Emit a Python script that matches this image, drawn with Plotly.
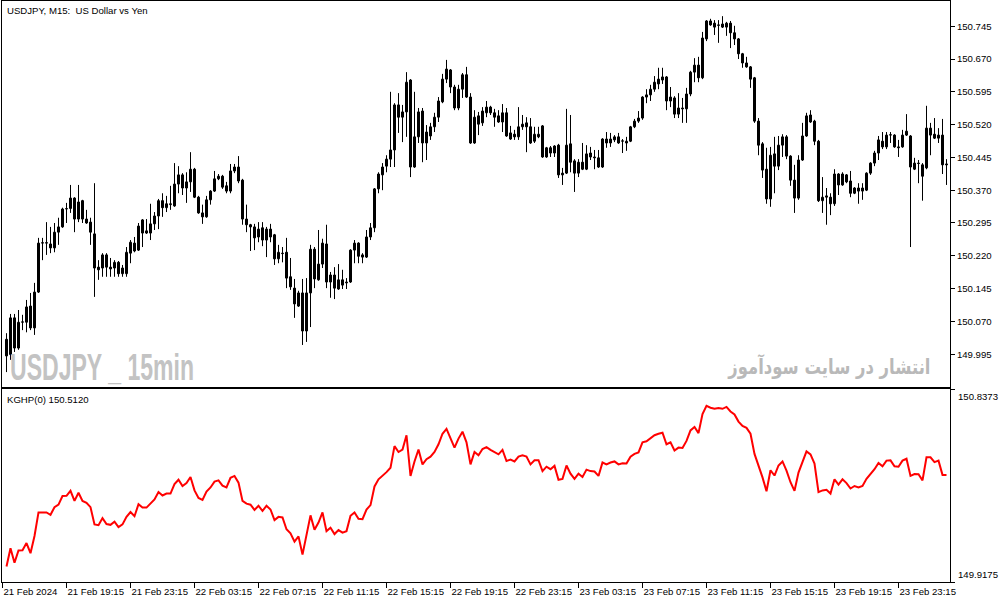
import plotly.graph_objects as go

# ---------------- data (USDJPY M15) ----------------
open_ = [
150.029,149.994,150.078,150.009,150.068,150.068,150.105,150.055,150.137,150.249,
150.250,150.247,150.238,150.274,150.286,150.327,150.328,150.352,150.304,150.346,
150.304,150.297,150.270,150.194,150.192,150.222,150.194,150.192,150.205,150.179,
150.179,150.226,150.249,150.233,150.302,150.277,150.272,150.293,150.311,150.346,
150.330,150.337,150.334,150.384,150.405,150.375,150.389,150.418,150.354,150.318,
150.309,150.348,150.368,150.396,150.402,150.380,150.368,150.414,150.423,150.393,
150.304,150.291,150.286,150.263,150.284,150.256,150.281,150.268,150.213,150.226,
150.228,150.172,150.146,150.105,150.135,150.048,150.135,150.235,150.165,150.201,
150.247,150.160,150.176,150.144,150.165,150.158,150.160,150.233,150.249,150.222,
150.217,150.263,150.284,150.373,150.405,150.425,150.441,150.462,150.565,150.537,
150.549,150.622,150.423,150.492,150.551,150.478,150.494,150.515,150.537,150.572,
150.624,150.645,150.606,150.558,150.601,150.634,150.583,150.478,150.540,150.524,
150.547,150.560,150.547,150.540,150.526,150.547,150.487,150.498,150.492,150.515,
150.524,150.515,150.482,150.492,150.517,150.446,150.467,150.455,150.473,150.405,
150.409,150.476,150.437,150.409,150.434,150.418,150.455,150.446,150.444,150.423,
150.487,150.478,150.485,150.492,150.482,150.478,150.482,150.515,150.528,150.535,
150.583,150.588,150.601,150.613,150.622,150.629,150.574,150.581,150.544,150.558,
150.556,150.590,150.640,150.656,150.627,150.716,150.757,150.752,150.748,150.750,
150.743,150.752,150.730,150.716,150.682,150.661,150.652,150.627,150.528,150.476,
150.418,150.350,150.453,150.425,150.473,150.492,150.448,150.393,150.352,150.439,
150.494,150.542,150.528,150.482,150.346,150.354,150.354,150.339,150.407,150.382,
150.405,150.391,150.363,150.375,150.368,150.370,150.409,150.432,150.455,150.482,
150.469,150.496,150.496,150.469,150.469,150.496,150.494,150.418,150.432,150.428,
150.421,150.496,150.498,150.489,150.496,150.430]

high = [
150.043,150.087,150.087,150.096,150.085,150.119,150.135,150.158,150.261,150.261,
150.297,150.286,150.295,150.307,150.330,150.341,150.382,150.354,150.382,150.348,
150.325,150.307,150.386,150.210,150.226,150.226,150.215,150.210,150.208,150.199,
150.240,150.256,150.263,150.295,150.304,150.304,150.339,150.320,150.350,150.363,
150.357,150.380,150.432,150.425,150.409,150.411,150.457,150.421,150.357,150.337,
150.357,150.370,150.414,150.407,150.405,150.389,150.430,150.430,150.448,150.396,
150.337,150.293,150.293,150.297,150.297,150.286,150.293,150.270,150.245,150.240,
150.261,150.215,150.167,150.140,150.167,150.169,150.245,150.240,150.279,150.259,
150.291,150.183,150.194,150.201,150.188,150.169,150.235,150.256,150.251,150.226,
150.279,150.295,150.375,150.411,150.432,150.450,150.595,150.569,150.592,150.565,
150.640,150.624,150.595,150.558,150.558,150.519,150.524,150.547,150.583,150.636,
150.668,150.647,150.611,150.611,150.638,150.652,150.592,150.553,150.549,150.560,
150.574,150.563,150.556,150.553,150.567,150.558,150.517,150.508,150.560,150.542,
150.537,150.535,150.515,150.515,150.519,150.469,150.471,150.473,150.476,150.421,
150.556,150.542,150.441,150.441,150.478,150.473,150.469,150.462,150.462,150.489,
150.503,150.501,150.496,150.501,150.487,150.492,150.517,150.533,150.551,150.585,
150.601,150.611,150.631,150.650,150.650,150.631,150.606,150.585,150.592,150.581,
150.604,150.643,150.672,150.675,150.732,150.759,150.762,150.759,150.759,150.768,
150.755,150.757,150.746,150.718,150.684,150.675,150.654,150.629,150.535,150.480,
150.467,150.469,150.492,150.494,150.498,150.496,150.450,150.428,150.450,150.524,
150.547,150.553,150.531,150.485,150.400,150.375,150.363,150.418,150.409,150.411,
150.407,150.414,150.377,150.386,150.386,150.411,150.434,150.460,150.494,150.503,
150.503,150.503,150.498,150.485,150.508,150.544,150.496,150.444,150.439,150.432,
150.563,150.524,150.535,150.512,150.533,150.441]

low = [
149.954,149.982,150.000,150.005,150.050,150.045,150.050,150.039,150.135,150.210,
150.222,150.226,150.228,150.245,150.284,150.295,150.318,150.274,150.297,150.295,
150.293,150.245,150.126,150.165,150.172,150.172,150.172,150.172,150.172,150.172,
150.172,150.203,150.228,150.231,150.240,150.270,150.256,150.279,150.281,150.309,
150.320,150.325,150.332,150.363,150.359,150.341,150.366,150.352,150.316,150.293,
150.307,150.337,150.366,150.393,150.373,150.363,150.363,150.409,150.386,150.291,
150.274,150.231,150.233,150.251,150.242,150.217,150.251,150.199,150.203,150.205,
150.146,150.142,150.078,150.103,150.016,150.023,150.057,150.146,150.163,150.192,
150.146,150.124,150.121,150.142,150.144,150.144,150.158,150.203,150.203,150.203,
150.215,150.256,150.274,150.363,150.370,150.411,150.423,150.423,150.501,150.480,
150.492,150.400,150.421,150.478,150.434,150.439,150.485,150.503,150.526,150.569,
150.615,150.592,150.553,150.553,150.581,150.581,150.476,150.476,150.496,150.517,
150.537,150.542,150.515,150.524,150.503,150.492,150.485,150.485,150.485,150.508,
150.457,150.476,150.478,150.489,150.444,150.444,150.446,150.446,150.398,150.382,
150.407,150.411,150.366,150.400,150.416,150.416,150.439,150.418,150.421,150.421,
150.467,150.469,150.480,150.476,150.455,150.460,150.480,150.512,150.524,150.531,
150.569,150.574,150.595,150.601,150.613,150.553,150.560,150.535,150.535,150.524,
150.524,150.585,150.617,150.617,150.624,150.711,150.746,150.725,150.707,150.741,
150.723,150.695,150.702,150.670,150.650,150.650,150.604,150.524,150.450,150.398,
150.339,150.332,150.363,150.416,150.446,150.441,150.380,150.318,150.348,150.437,
150.492,150.524,150.473,150.343,150.318,150.291,150.313,150.334,150.359,150.380,
150.386,150.354,150.361,150.339,150.348,150.368,150.405,150.425,150.439,150.464,
150.464,150.478,150.467,150.446,150.467,150.494,150.240,150.416,150.386,150.346,
150.418,150.450,150.487,150.478,150.407,150.382]

close = [
149.991,150.078,150.009,150.068,150.069,150.103,150.055,150.137,150.249,150.250,
150.249,150.238,150.274,150.286,150.327,150.328,150.352,150.304,150.343,150.304,
150.295,150.274,150.192,150.188,150.222,150.194,150.190,150.205,150.179,150.192,
150.228,150.251,150.231,150.288,150.272,150.272,150.293,150.311,150.346,150.330,
150.339,150.339,150.384,150.405,150.375,150.389,150.418,150.354,150.318,150.309,
150.348,150.368,150.396,150.402,150.377,150.368,150.414,150.423,150.391,150.304,
150.291,150.286,150.261,150.281,150.256,150.281,150.263,150.213,150.228,150.225,
150.169,150.149,150.110,150.135,150.048,150.135,150.235,150.167,150.201,150.249,
150.160,150.176,150.146,150.165,150.153,150.160,150.233,150.249,150.219,150.217,
150.263,150.284,150.373,150.407,150.423,150.441,150.462,150.565,150.537,150.549,
150.617,150.423,150.492,150.549,150.478,150.503,150.515,150.537,150.574,150.624,
150.647,150.606,150.558,150.601,150.634,150.583,150.478,150.537,150.521,150.551,
150.560,150.547,150.537,150.526,150.547,150.494,150.501,150.492,150.515,150.521,
150.515,150.478,150.498,150.498,150.446,150.467,150.455,150.471,150.405,150.409,
150.473,150.434,150.409,150.434,150.418,150.453,150.446,150.444,150.423,150.487,
150.478,150.487,150.492,150.478,150.483,150.482,150.515,150.528,150.535,150.583,
150.588,150.601,150.617,150.624,150.629,150.574,150.583,150.544,150.558,150.556,
150.590,150.640,150.656,150.627,150.718,150.757,150.748,150.743,150.747,150.743,
150.752,150.730,150.716,150.682,150.661,150.652,150.624,150.528,150.473,150.416,
150.350,150.450,150.425,150.473,150.492,150.448,150.393,150.352,150.439,150.494,
150.540,150.526,150.482,150.346,150.354,150.357,150.339,150.407,150.382,150.407,
150.389,150.363,150.375,150.368,150.375,150.409,150.432,150.455,150.485,150.469,
150.496,150.497,150.469,150.467,150.496,150.505,150.423,150.432,150.431,150.402,
150.512,150.512,150.489,150.496,150.428,150.428]

# KGHP indicator line follows the closing prices
kghp = close

bars = list(range(1, len(close) + 1))

price_ticks = [150.745, 150.670, 150.595, 150.520, 150.445, 150.370,
               150.295, 150.220, 150.145, 150.070, 149.995]
price_tick_text = ["150.745", "150.670", "150.595", "150.520", "150.445", "150.370",
                   "150.295", "150.220", "150.145", "150.070", "149.995"]

ind_max = 150.8373
ind_min = 149.9175

time_tick_bars = [0, 16, 32, 48, 64, 80, 96, 112, 128, 144, 160, 176, 192, 208, 224]
time_tick_labels = ["21 Feb 2024", "21 Feb 19:15", "21 Feb 23:15", "22 Feb 03:15",
                    "22 Feb 07:15", "22 Feb 11:15", "22 Feb 15:15", "22 Feb 19:15",
                    "22 Feb 23:15", "23 Feb 03:15", "23 Feb 07:15", "23 Feb 11:15",
                    "23 Feb 15:15", "23 Feb 19:15", "23 Feb 23:15"]

title_text = "USDJPY, M15:  US Dollar vs Yen"
indicator_text = "KGHP(0) 150.5120"
watermark_left = "USDJPY _ 15min"
watermark_right = "انتشار در سایت سودآموز"

# ---------------- derived drawing series ----------------
body_lo = [min(o, c) for o, c in zip(open_, close)]
body_h = [max(abs(c - o), 0.0006) for o, c in zip(open_, close)]
body_fill = ["white" if c >= o else "black" for o, c in zip(open_, close)]

wick_x, wick_y = [], []
for b, lo, hi in zip(bars, low, high):
    wick_x += [b, b, None]
    wick_y += [lo, hi, None]

# ---------------- figure ----------------
FONT = "Liberation Sans, Arial, sans-serif"
FS = 9.6

fig = go.Figure()

fig.add_trace(go.Scatter(
    x=wick_x, y=wick_y, mode="lines", line=dict(color="black", width=1),
    showlegend=False, hoverinfo="skip", xaxis="x", yaxis="y"))

fig.add_trace(go.Bar(
    x=bars, y=body_h, base=body_lo, width=0.5,
    marker=dict(color=body_fill, line=dict(color="black", width=1)),
    showlegend=False, hoverinfo="skip", xaxis="x", yaxis="y"))

fig.add_trace(go.Scatter(
    x=bars, y=kghp, mode="lines",
    line=dict(color="#ff0000", width=2),
    showlegend=False, hoverinfo="skip",
    xaxis="x2", yaxis="y2"))

H_TOP, H_BOT = 1, 582
PH = H_BOT - H_TOP


def py(pix):
    return (H_BOT - pix) / PH


axis_common = dict(showgrid=False, zeroline=False, showline=True, mirror=True,
                   linecolor="black", linewidth=1, automargin=False)
XR = [-0.125, 236.875]

fig.update_layout(
    width=1003, height=603,
    margin=dict(l=2, r=53, t=H_TOP, b=603 - H_BOT, pad=0, autoexpand=False),
    paper_bgcolor="white", plot_bgcolor="white",
    font=dict(family=FONT, size=FS, color="black"),
    showlegend=False,
    xaxis=dict(domain=[0, 1], range=XR, anchor="y", showticklabels=False,
               ticks="", rangeslider=dict(visible=False), **axis_common),
    yaxis=dict(domain=[py(387), 1], range=[149.9199, 150.8027], side="right",
               tickmode="array", tickvals=price_ticks, ticktext=price_tick_text,
               ticks="outside", ticklen=4, tickcolor="black",
               tickfont=dict(family=FONT, size=FS, color="black"), **axis_common),
    xaxis2=dict(domain=[0, 1], range=XR, anchor="y2",
                tickmode="array", tickvals=time_tick_bars, ticktext=time_tick_labels,
                ticks="outside", ticklen=5, tickcolor="black", tickangle=0,
                ticklabelposition="outside right",
                tickfont=dict(family=FONT, size=FS, color="black"), **axis_common),
    yaxis2=dict(domain=[0, py(389)], range=[ind_min, ind_max], side="right",
                tickmode="array", tickvals=[ind_max, ind_min], showticklabels=False,
                ticks="outside", ticklen=4, tickcolor="black", **axis_common),
)

ann = []
ann.append(dict(text=title_text, xref="paper", yref="paper", x=(5 - 2) / 948, y=py(3),
                xanchor="left", yanchor="top", showarrow=False,
                font=dict(family=FONT, size=FS, color="black")))
ann.append(dict(text=indicator_text, xref="paper", yref="paper", x=(5 - 2) / 948, y=py(392),
                xanchor="left", yanchor="top", showarrow=False,
                font=dict(family=FONT, size=FS, color="black")))
ann.append(dict(text=f"{ind_max:.4f}", xref="paper", yref="y2", x=1, xshift=6, y=ind_max,
                xanchor="left", yanchor="top", showarrow=False,
                font=dict(family=FONT, size=FS, color="black")))
ann.append(dict(text=f"{ind_min:.4f}", xref="paper", yref="y2", x=1, xshift=6, y=ind_min,
                xanchor="left", yanchor="bottom", showarrow=False,
                font=dict(family=FONT, size=FS, color="black")))
ann.append(dict(text="<b>" + watermark_left + "</b>", xref="paper", yref="paper",
                x=(8 - 2) / 948, y=py(367), xanchor="left", yanchor="middle",
                showarrow=False,
                font=dict(family="Liberation Sans, Arial, sans-serif",
                          size=36, color="#c3c3c3")))
ann.append(dict(text="<b>" + watermark_right + "</b>", xref="paper", yref="paper",
                x=(933 - 2) / 948, y=py(366), xanchor="right", yanchor="middle",
                showarrow=False,
                font=dict(family="DejaVu Sans, sans-serif", size=21, color="#b9b9b9")))
fig.update_layout(annotations=ann)

# page without the default body margin; watermark lettering narrowed
# horizontally (the reference uses a condensed face)
post_js = """
document.documentElement.style.margin = '0';
document.documentElement.style.padding = '0';
document.body.style.margin = '0';
document.body.style.padding = '0';
document.body.style.overflow = 'hidden';
var gd = document.getElementById('{plot_id}');
function squeeze(key, targetW, anchorRight) {
  var nodes = gd.querySelectorAll('text.annotation-text');
  for (var i = 0; i < nodes.length; i++) {
    var t = nodes[i];
    if (t.textContent.indexOf(key) >= 0) {
      var bb = t.getBBox();
      if (!bb.width) continue;
      var s = targetW / bb.width;
      var x0 = anchorRight ? bb.x + bb.width : bb.x;
      var prev = t.getAttribute('transform') || '';
      t.setAttribute('transform', prev + ' translate(' + x0 + ',0) scale(' + s + ',1) translate(' + (-x0) + ',0)');
    }
  }
}
squeeze('15min', 184, false);
squeeze('سودآموز', 203, true);
"""

fig.write_html("out.html", post_script=post_js,
               config={"displayModeBar": False, "staticPlot": False})
